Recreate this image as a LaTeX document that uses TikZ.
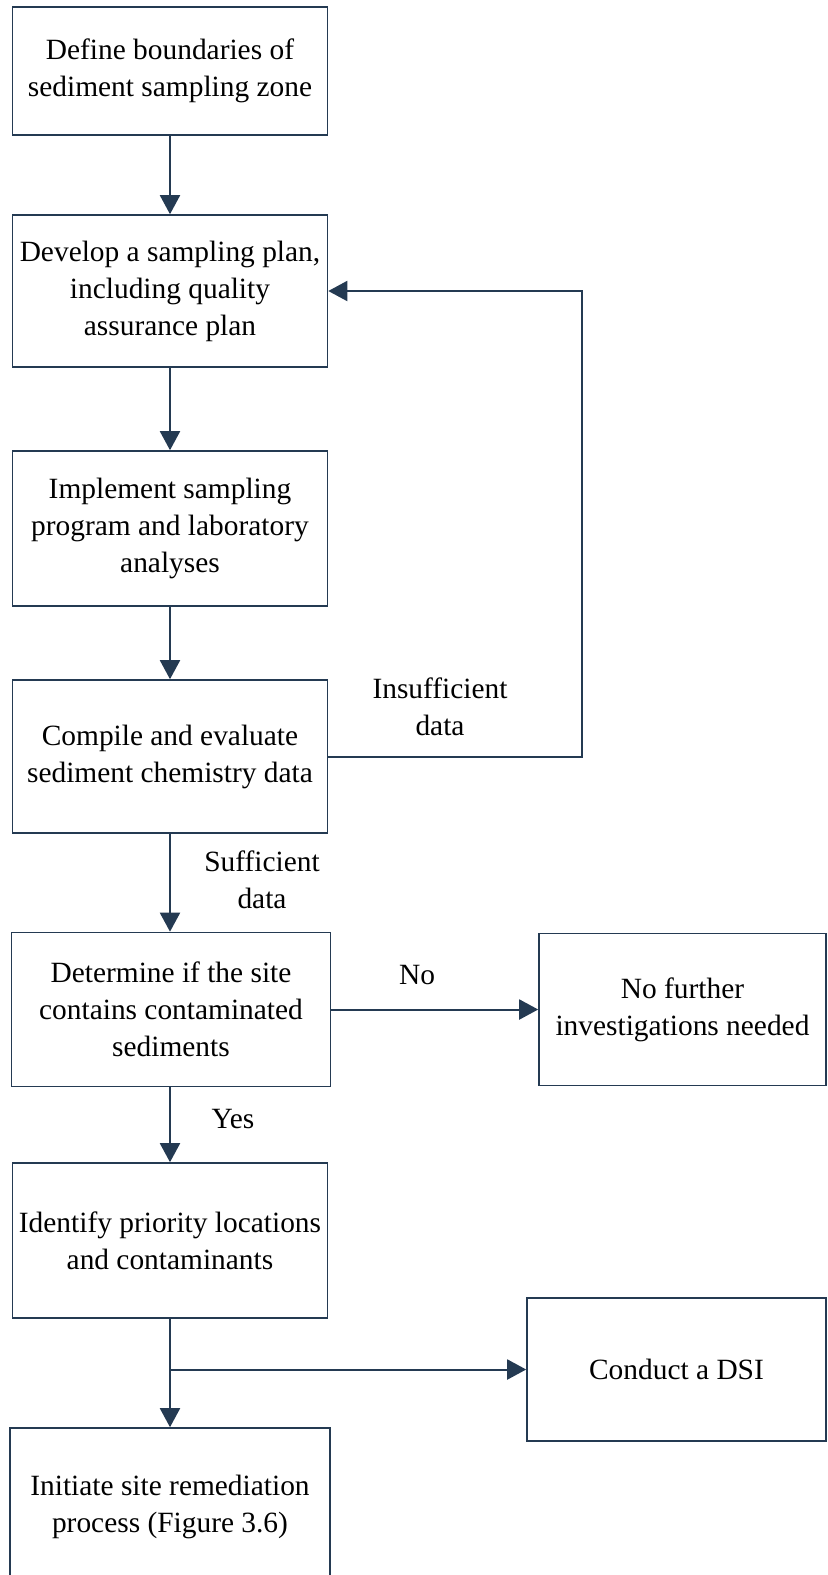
\documentclass[tikz,border=0pt]{standalone}
\usepackage{fontspec}
\setmainfont{Liberation Serif}
\usepackage{tikz}
\usepackage{xcolor}
\usetikzlibrary{positioning, arrows.meta}
\definecolor{fcnavy}{RGB}{36, 58, 82}
\newcommand{\flowfont}{\fontsize{14.7pt}{18.5pt}\selectfont}
\tikzset{
    procbox/.style={rectangle, draw=fcnavy, line width=0.8pt, minimum width=157.5pt, minimum height=77pt, align=center, inner sep=0pt, font=\flowfont},
    sidebox/.style={procbox, minimum width=146pt},
    flowlabel/.style={align=center, inner sep=0pt, font=\flowfont},
    flowarrow/.style={draw=fcnavy, line width=1pt, -{Triangle[length=9.5pt, width=10pt]}}
}

\begin{document}
\begin{tikzpicture}[x=0.5pt, y=-0.5pt]
    \useasboundingbox (0,0) rectangle (827,1575);

    % Main column of steps
    \node[procbox, minimum height=64pt] (define) at (170,71) {Define boundaries of\\sediment sampling zone};
    \node[procbox, minimum height=76pt] (plan) at (170,291) {Develop a sampling plan,\\including quality\\assurance plan};
    \node[procbox, minimum height=77.5pt] (implement) at (170,528.5) {Implement sampling\\program and laboratory\\analyses};
    \node[procbox, minimum height=76.5pt] (compile) at (170,756.5) {Compile and evaluate\\sediment chemistry data};
    \node[procbox, minimum width=159.5pt] (determine) at (171,1009.5) {Determine if the site\\contains contaminated\\sediments};
    \node[procbox, minimum height=77.5pt] (identify) at (170,1240.5) {Identify priority locations\\and contaminants};
    \node[procbox, minimum width=160pt, minimum height=78.5pt] (initiate) at (170,1506.5) {Initiate site remediation\\process (Figure 3.6)};

    % Side outcomes
    \node[sidebox, minimum width=143.5pt, minimum height=76pt] (nofurther) at (682.5,1009.5) {No further\\investigations needed};
    \node[sidebox, minimum width=149.5pt, minimum height=71.5pt] (dsi) at (676.5,1369.5) {Conduct a DSI};

    % Labels on the connectors
    \node[flowlabel] (insufflbl) at (440,707) {Insufficient\\data};
    \node[flowlabel] (sufflbl) at (262,880) {Sufficient\\data};
    \node[flowlabel] (nolbl) at (417,975) {No};
    \node[flowlabel] (yeslbl) at (233,1119) {Yes};

    \coordinate (loopcorner) at (582,756.5);
    \coordinate (branch) at (170,1369.5);

    \draw[flowarrow] (define) -- (plan);
    \draw[flowarrow] (plan) -- (implement);
    \draw[flowarrow] (implement) -- (compile);
    \draw[flowarrow] (compile.south) -- (compile.south |- determine.north);
    \draw[flowarrow] (compile.east) -- (loopcorner) |- (plan.east);
    \draw[flowarrow] (determine) -- (nofurther);
    \draw[flowarrow] (determine.south -| identify.north) -- (identify.north);
    \draw[flowarrow] (identify) -- (initiate);
    \draw[flowarrow] (branch) -- (dsi.west);
\end{tikzpicture}
\end{document}
